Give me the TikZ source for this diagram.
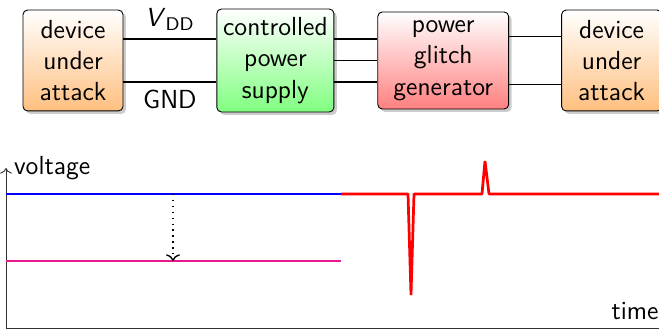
\documentclass[tikz,border=0pt]{standalone}
\usepackage{tikz}
\usetikzlibrary{positioning,arrows.meta,shadows,calc}
\usepackage{xcolor}
\definecolor{glitchred}{HTML}{FF0000}
\definecolor{droppink}{HTML}{E8198B}
\renewcommand{\familydefault}{\sfdefault}

\begin{document}
\begin{tikzpicture}[
    x=0.44pt, y=0.44pt,
    every node/.style={font=\fontsize{11.5}{13.8}\selectfont},
    block/.style={rectangle, rounded corners=2pt, draw=black, align=center, inner sep=2pt, drop shadow={opacity=0.4, shadow xshift=1.3pt, shadow yshift=-1.3pt}},
    dutBlock/.style={block, top color=white, bottom color=orange!50, minimum width=44pt, minimum height=44.4pt},
    psuBlock/.style={block, top color=white, bottom color=green!50, minimum width=51.5pt, minimum height=45.3pt},
    pggBlock/.style={block, top color=white, bottom color=red!50, minimum width=57.6pt, minimum height=42.7pt},
    wire/.style={draw=black, semithick},
    axis/.style={draw=black!80, thin},
    level/.style={line width=1pt}
]
    \useasboundingbox (0,0) rectangle (659,334);

    % Catena di alimentazione
    \node[dutBlock] (dutL) at (73,273.5) {device\\under\\attack};
    \node[psuBlock, right=40.9pt of dutL] (psu) {controlled\\power\\supply};
    \node[pggBlock, right=18.9pt of psu] (pgg) {power\\glitch\\generator};
    \node[dutBlock, right=22.9pt of pgg] (dutR) {device\\under\\attack};

    % Collegamenti
    \draw[wire] ($(dutL.east)+(0,21.5)$) -- ($(psu.west)+(0,21.5)$) node[midway, above] {\textit{V}\textsubscript{DD}};
    \draw[wire] ($(dutL.east)+(0,-21.5)$) -- ($(psu.west)+(0,-21.5)$) node[midway, below] {GND};
    \draw[wire] ($(psu.east)+(0,21.5)$) -- ($(pgg.west)+(0,21.5)$);
    \draw[wire] (psu.east) -- (pgg.west);
    \draw[wire] ($(psu.east)+(0,-21.5)$) -- ($(pgg.west)+(0,-21.5)$);
    \draw[wire] ($(pgg.east)+(0,24)$) -- ($(dutR.west)+(0,24)$);
    \draw[wire] ($(pgg.east)+(0,-24)$) -- ($(dutR.west)+(0,-24)$);

    % Assi
    \coordinate (O) at (6,6);
    \draw[axis, ->] (O) -- (6,166) node[right] (vLabel) {voltage};
    \draw[axis] (O) -- (659,6) node[above left, inner xsep=0pt] (tLabel) {time};

    % Livelli di tensione
    \coordinate (vddA) at (6,140);
    \coordinate (vddB) at (341,140);
    \coordinate (lowA) at (6,73);
    \coordinate (lowB) at (341,73);
    \draw[level, blue] (vddA) -- (vddB);
    \draw[level, droppink] (lowA) -- (lowB);
    \draw[semithick, dotted, ->] (173,140) -- (173,73);

    % Tensione con glitch
    \draw[very thick, glitchred, line join=bevel] (vddB) -- (408,140) -- (411,39) -- (414,140)
        -- (482,140) -- (485,173) -- (489,140) -- (659,140);
\end{tikzpicture}
\end{document}
